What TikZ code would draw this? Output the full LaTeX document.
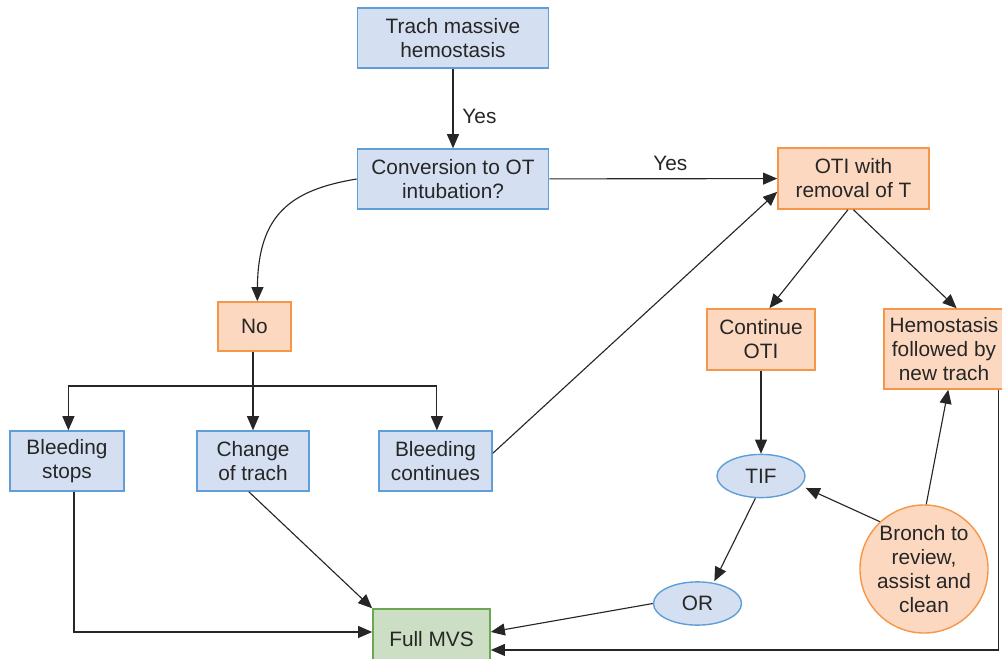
\documentclass[tikz,border=0pt]{standalone}
\usepackage{fontspec}
\setmainfont{Liberation Sans}
\usetikzlibrary{arrows.meta}
\usetikzlibrary{shapes.geometric}
\definecolor{boxblue}{RGB}{212,224,241}
\definecolor{lineblue}{RGB}{95,158,214}
\definecolor{boxorange}{RGB}{252,216,192}
\definecolor{lineorange}{RGB}{245,150,72}
\definecolor{boxgreen}{RGB}{204,222,196}
\definecolor{linegreen}{RGB}{108,168,82}
\definecolor{ink}{RGB}{38,38,38}
\tikzset{base/.style = {draw, line width=1pt, align=center, inner sep=0pt, text=ink,
                        font=\fontsize{14.8}{17}\selectfont},
         bluebox/.style = {base, rectangle, fill=boxblue, draw=lineblue},
         orangebox/.style = {base, rectangle, fill=boxorange, draw=lineorange},
         greenbox/.style = {base, rectangle, fill=boxgreen, draw=linegreen},
         blueoval/.style = {base, ellipse, fill=boxblue, draw=lineblue,
                            minimum width=2.2cm, minimum height=1.08cm},
         orangeround/.style = {base, circle, fill=boxorange, draw=lineorange, minimum size=3.2cm},
         arr/.style = {-{Triangle[length=10pt,width=8.5pt]}, draw=ink, line width=0.8pt},
         plain/.style = {draw=ink, line width=0.8pt},
         lbl/.style = {text=ink, font=\fontsize{14.8}{17}\selectfont}}

\begin{document}
\begin{tikzpicture}[x=0.025cm, y=-0.025cm]
    \useasboundingbox (0,0) rectangle (1002,659);
    \clip (0,0) rectangle (1002,659);

    \node[bluebox, minimum width=4.78cm, minimum height=1.5cm] (trach) at (453,38) {Trach massive\\hemostasis};
    \node[bluebox, minimum width=4.78cm, minimum height=1.5cm] (conv) at (453,179) {Conversion to OT\\intubation?};
    \node[orangebox, minimum width=3.78cm, minimum height=1.53cm] (oti) at (853.5,178.5) {OTI with\\removal of T};
    \node[orangebox, minimum width=1.83cm, minimum height=1.23cm] (no) at (254.5,326.5) {No};
    \node[bluebox, minimum width=2.85cm, minimum height=1.5cm] (stops) at (67,461) {Bleeding\\stops};
    \node[bluebox, minimum width=2.8cm, minimum height=1.5cm] (change) at (253,461) {Change\\of trach};
    \node[bluebox, minimum width=2.83cm, minimum height=1.5cm] (cont) at (435.5,461) {Bleeding\\continues};
    \node[orangebox, minimum width=2.7cm, minimum height=1.53cm] (cotin) at (761,339.5) {Continue\\OTI};
    \node[orangebox, minimum width=3cm, minimum height=2cm] (hemo) at (944,349) {Hemostasis\\followed by\\new trach};
    \node[blueoval] (tif) at (761,476) {TIF};
    \node[blueoval] (or) at (697.5,603.5) {OR};
    \node[orangeround] (bronch) at (924,569) {Bronch to\\review,\\assist and\\clean};
    \node[greenbox, minimum width=2.93cm, minimum height=1.5cm] (mvs) at (431.5,639) {Full MVS};
    \coordinate (split) at (253,386);

    \draw[arr] (trach) -- node[lbl, pos=0.6, right=3pt] {Yes} (conv);
    \draw[arr] (conv) -- node[lbl, above=2pt, xshift=5pt] {Yes} (oti);
    \draw[arr] (conv.west) .. controls (290,190) and (258,215) .. ([xshift=2pt]no.north);
    \draw[plain] (split |- no.south) -- (split);
    \draw[arr] (split) -| ([xshift=1pt]stops.north);
    \draw[arr] (split) -- (change);
    \draw[arr] (split) -| ([xshift=1pt]cont.north);
    \draw[arr] ([yshift=5.5pt]cont.east) -- ([yshift=-9.5pt]oti.west);
    \draw[arr] ([xshift=-4pt]oti.south) -- ([xshift=6pt]cotin.north);
    \draw[arr] (oti.south) -- ([xshift=9pt]hemo.north);
    \draw[arr] (cotin) -- (tif);
    \draw[arr] ([xshift=-4pt]tif.south) -- ([xshift=12pt]or.north);
    \draw[arr] (bronch.133) -- ([yshift=-8.5pt]tif.east);
    \draw[arr] (bronch.88) -- ([xshift=3pt]hemo.south);
    \draw[arr] (or.west) -- ([yshift=5pt]mvs.east);
    \draw[arr] ([xshift=-4.25pt]hemo.south east) |- ([yshift=-7.8pt]mvs.east);
    \draw[arr] ([xshift=5pt]stops.south) |- ([yshift=5pt]mvs.west);
    \draw[arr] ([xshift=-3pt]change.south) -- (mvs.north west);
  \end{tikzpicture}
\end{document}
